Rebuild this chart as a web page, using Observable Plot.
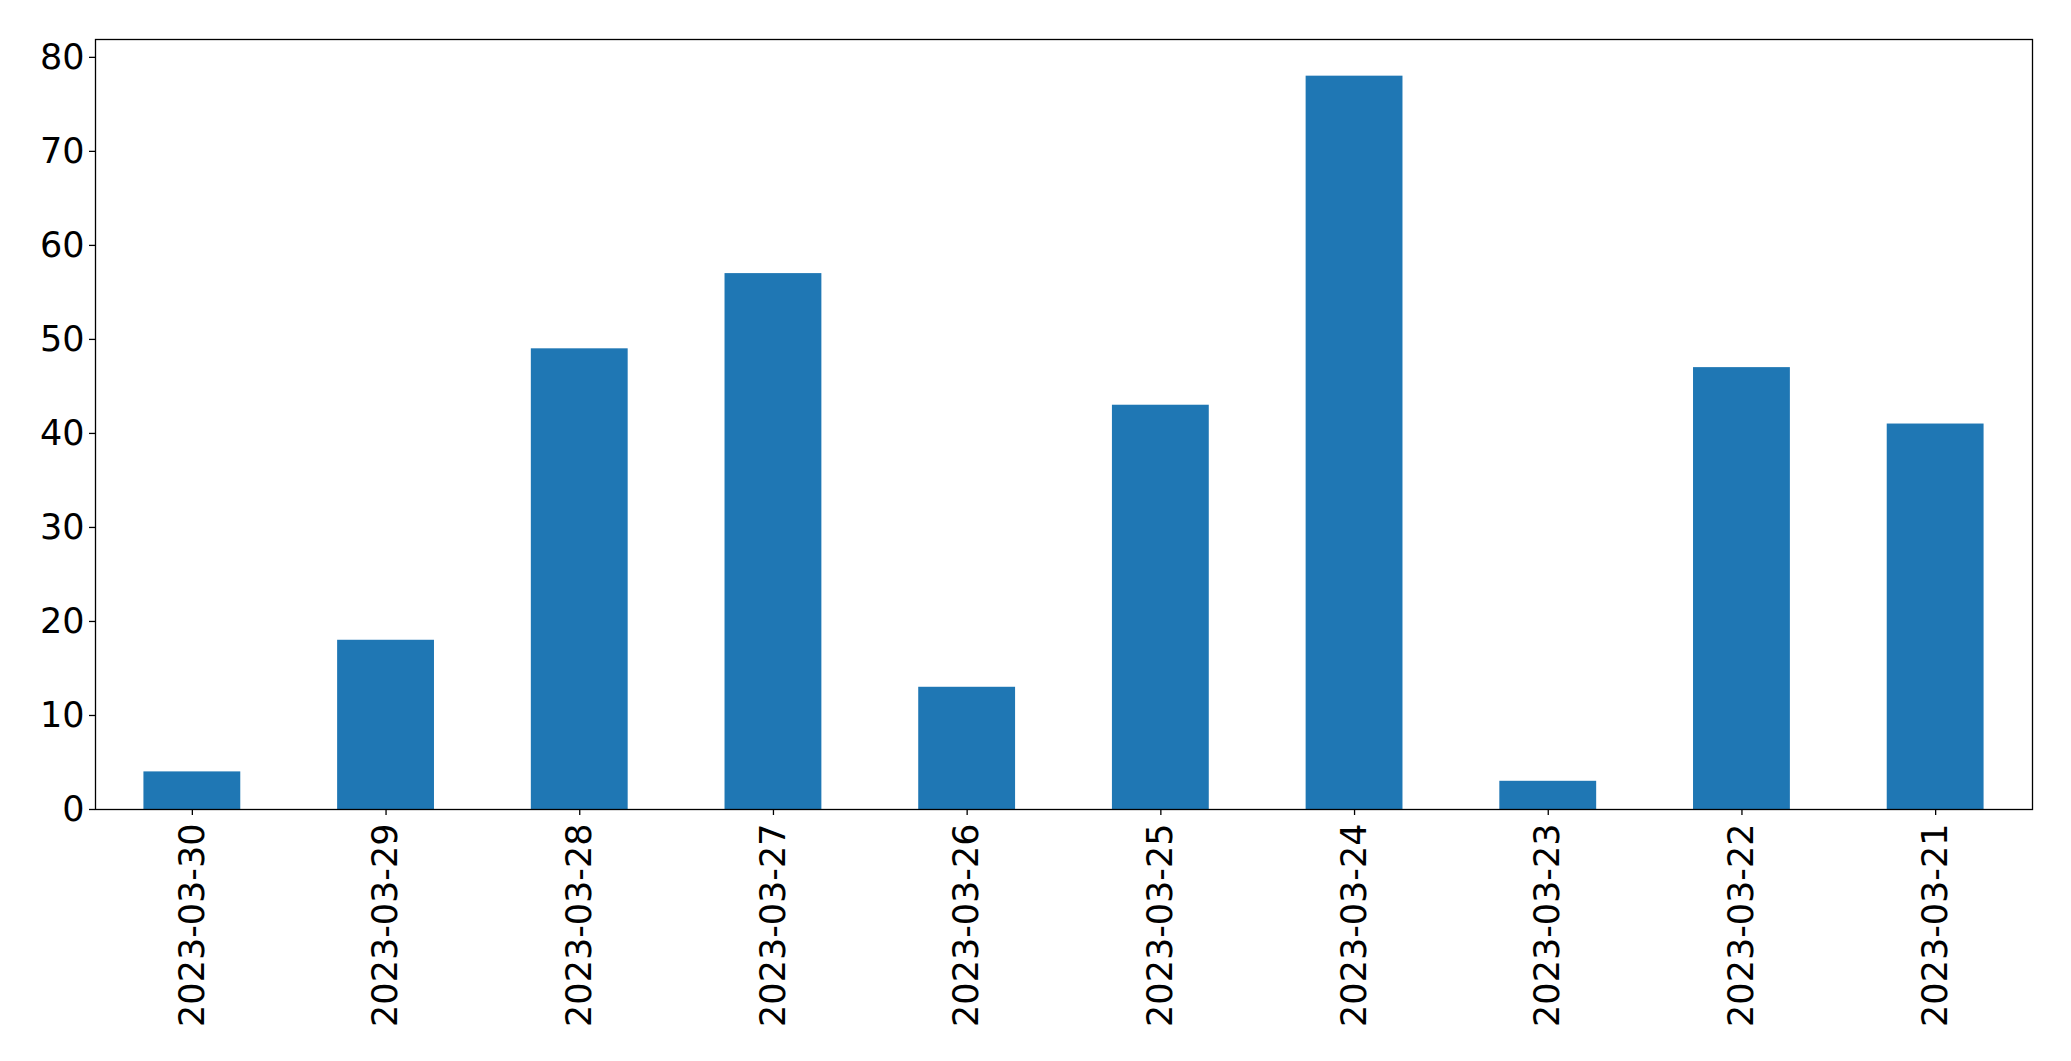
<!DOCTYPE html>
<html>
<head>
<meta charset="utf-8">
<script src="https://cdn.jsdelivr.net/npm/d3@7"></script>
<script src="https://cdn.jsdelivr.net/npm/@observablehq/plot@0.6"></script>
<style>
  html, body { margin: 0; padding: 0; background: #ffffff; }
  #chart { width: 2071px; height: 1061px; }
</style>
</head>
<body>
<div id="chart"></div>
<script>
const dates = ["2023-03-30", "2023-03-29", "2023-03-28", "2023-03-27", "2023-03-26", "2023-03-25", "2023-03-24", "2023-03-23", "2023-03-22", "2023-03-21"];
const counts = [4, 18, 49, 57, 13, 43, 78, 3, 47, 41];
const yTicks = [0, 10, 20, 30, 40, 50, 60, 70, 80];

const data = dates.map((d, i) => ({date: d, count: counts[i]}));

const chart = Plot.plot({
  width: 2071,
  height: 1061,
  marginLeft: 95,
  marginRight: 39,
  marginTop: 39,
  marginBottom: 252,
  style: {
    fontFamily: "'DejaVu Sans', sans-serif",
    fontSize: "35px",
    color: "#000000",
    background: "#ffffff"
  },
  x: {domain: dates, paddingInner: 0.5, paddingOuter: 0.25, round: false, label: null},
  y: {domain: [0, 81.9], label: null},
  marks: [
    Plot.barY(data, {x: "date", y: "count", fill: "#1f77b4"}),
    Plot.axisY({ticks: yTicks, tickSize: 6, tickPadding: 5, strokeWidth: 1.3, label: null}),
    Plot.axisX({tickSize: 6, tickPadding: 8, tickRotate: -90, strokeWidth: 1.3, label: null}),
    Plot.frame({stroke: "#000000", strokeWidth: 1.3})
  ]
});
document.getElementById("chart").appendChild(chart);
</script>
</body>
</html>
